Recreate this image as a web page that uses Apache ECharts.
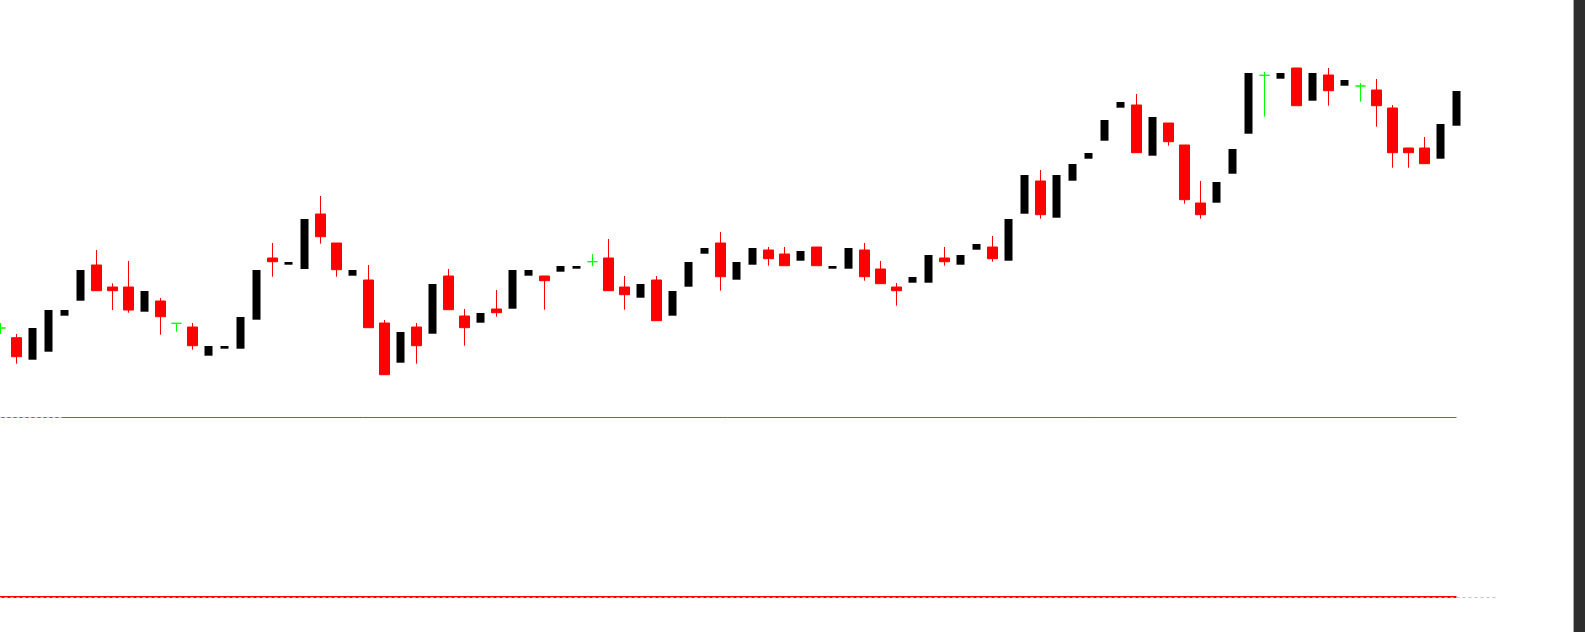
<!DOCTYPE html>
<html>
<head>
<meta charset="utf-8">
<script src="https://cdn.jsdelivr.net/npm/echarts@6/dist/echarts.min.js"></script>
<style>
  html, body { margin: 0; padding: 0; background: #ffffff; }
  #chart { width: 1585px; height: 632px; }
</style>
</head>
<body>
<div id="chart"></div>
<script>
// ---- data (price units; no axis labels are shown in the reference) ----
const openPrices = [
  672, 662.3, 640.3, 648.3, 684.3, 699.3, 735, 713, 713, 688.3,
  699, 676.7, 673, 644.3, 651.3, 651.3, 680.3, 742, 735.3, 731,
  786, 757, 724.3, 720, 677, 637.3, 673, 666.3, 724, 684,
  677.3, 691, 691.3, 724.3, 724, 728.3, 731.3, 738.3, 742, 713,
  702.3, 720, 684.3, 713.3, 746.3, 757, 720.3, 735.3, 750, 746,
  739.3, 753, 731.3, 731.3, 750, 731, 713, 717.3, 717.3, 742,
  735.3, 750.3, 753, 739.3, 786.3, 819, 782.3, 819.3, 841.3, 859.3,
  892.3, 895, 844.3, 877, 855, 797, 797.3, 826.3, 866.3, 924.7,
  921.3, 932, 899.3, 925, 914.3, 914, 910, 892, 852, 852,
  841.3, 874.3
];
const closePrices = [
  672, 643.3, 672, 690, 690, 730, 709.3, 709.3, 690, 709,
  683.3, 676.7, 654.3, 654, 654, 683, 730, 738.3, 738, 781,
  763.3, 730.3, 730, 672.3, 625.3, 668, 654.3, 716, 690.3, 672.3,
  687, 687.3, 730, 730, 719.3, 734, 734, 738.3, 709.3, 705.3,
  716, 679.3, 709, 738, 752, 723.3, 738, 752, 741.3, 734.3,
  749, 734.3, 734, 752, 723.3, 716.3, 709.3, 723, 745, 738.3,
  745, 756, 741.3, 781, 825, 785.3, 825, 836, 847, 880,
  898, 847.3, 883, 858.3, 800.3, 785.3, 818, 851, 927, 924.7,
  927, 894.3, 927, 909.3, 920, 914, 894.3, 847.3, 847.3, 836.3,
  876, 909
];
const lowPrices = [
  666, 636.3, 640.3, 648.3, 684.3, 699.3, 709.3, 690, 687.3, 688.3,
  665.3, 668.3, 650.3, 644.3, 651.3, 651.3, 680.3, 723.3, 735.3, 731,
  756.3, 723.3, 724.3, 672.3, 625.3, 637.3, 636.3, 666.3, 690.3, 654.3,
  677.3, 683.3, 691.3, 724.3, 690.3, 728.3, 731.3, 734, 709.3, 690.3,
  702.3, 679.3, 684.3, 713.3, 746.3, 709.3, 720.3, 735.3, 734.3, 734.3,
  739.3, 734.3, 731.3, 731.3, 719.3, 716.3, 694.3, 717.3, 717.3, 734.3,
  735.3, 750.3, 738.3, 739.3, 786.3, 781.3, 782.3, 819.3, 841.3, 859.3,
  892.3, 847.3, 844.3, 854.3, 796.3, 781.3, 797.3, 826.3, 866.3, 883.3,
  921.3, 894.3, 899.3, 894.3, 914.3, 898.3, 873.3, 832.3, 832.3, 836.3,
  841.3, 874.3
];
const highPrices = [
  677, 666, 672, 690, 690, 730, 750, 716.7, 739, 709,
  702, 676.7, 677, 654, 654, 683, 730, 757, 738, 781,
  804, 757, 730, 735, 680, 668, 677, 716, 731, 691,
  687, 710, 730, 730, 724, 734, 734, 746, 761, 724,
  716, 724, 709, 738, 752, 768, 738, 752, 753, 753,
  749, 753, 734, 752, 757, 739, 717, 723, 745, 753,
  745, 756, 764, 781, 825, 830, 825, 836, 847, 880,
  898, 906, 883, 877, 855, 819, 818, 851, 927, 928,
  927, 932, 927, 932, 920, 917, 921, 895, 852, 863,
  876, 909
];
const upperLevel = 582.5;   // magenta horizontal level
const lowerLevel = 403;     // red horizontal level
const gridLevel = 402.5;    // grey dotted level line
const extraSlots = 3;       // empty bars to the right of the last candle

// ---- build ----
const N = openPrices.length;
const total = N + extraSlots;
const categories = [];
for (let i = 0; i < total; i++) categories.push(String(i + 1));
const upData = [], downData = [], dojiData = [];
for (let i = 0; i < N; i++) {
  const o = openPrices[i], c = closePrices[i];
  const item = [i, o, c, lowPrices[i], highPrices[i]];
  if (c > o) upData.push(item);
  else if (c < o) downData.push(item);
  else dojiData.push(item);
}
const enc = { x: 0, y: [1, 2, 3, 4] };

const chart = echarts.init(document.getElementById('chart'), null, { renderer: 'canvas' });
chart.setOption({
  animation: false,
  backgroundColor: '#ffffff',
  grid: { left: -7.5, top: 0, width: 16 * total, height: 632, containLabel: false, outerBoundsMode: 'none' },
  xAxis: [
    { type: 'category', data: categories, boundaryGap: true, show: false },
    { type: 'value', min: -0.5, max: total - 0.5, show: false }
  ],
  yAxis: { type: 'value', min: 368, max: 1000, show: false, splitLine: { show: false } },
  series: [
    {
      type: 'line', xAxisIndex: 1, silent: true, symbol: 'none',
      data: [[-0.5, upperLevel], [N - 1, upperLevel]],
      lineStyle: { color: '#ff00ff', width: 1 }, z: 1
    },
    {
      type: 'line', xAxisIndex: 1, silent: true, symbol: 'none',
      data: [[-0.5, upperLevel], [4, upperLevel]],
      lineStyle: { color: '#f7c8f7', width: 1, type: [3, 3] }, z: 2
    },
    {
      type: 'line', xAxisIndex: 1, silent: true, symbol: 'none',
      data: [[-0.5, lowerLevel], [N - 1, lowerLevel]],
      lineStyle: { color: '#ff0000', width: 2 }, z: 1
    },
    {
      type: 'line', xAxisIndex: 1, silent: true, symbol: 'none',
      data: [[-0.5, gridLevel], [N + 1.6, gridLevel]],
      lineStyle: { color: '#c0c0c0', width: 1, type: [3, 3] }, z: 2
    },
    {
      type: 'candlestick', name: 'up', data: upData, encode: enc, barWidth: 9,
      itemStyle: { color: '#000000', color0: '#000000', borderColor: '#000000', borderColor0: '#000000', borderWidth: 0 },
      z: 3
    },
    {
      type: 'candlestick', name: 'down', data: downData, encode: enc, barWidth: 10,
      itemStyle: { color: '#ff0000', color0: '#ff0000', borderColor: '#ff0000', borderColor0: '#ff0000', borderWidth: 1 },
      z: 3
    },
    {
      type: 'candlestick', name: 'doji', data: dojiData, encode: enc, barWidth: 10,
      itemStyle: { color: '#00ff00', color0: '#00ff00', borderColor: '#00ff00', borderColor0: '#00ff00', borderColorDoji: '#00ff00', borderWidth: 1 },
      z: 3
    }
  ],
  graphic: [
    { type: 'rect', right: 0, top: 0, shape: { width: 11, height: 632 }, style: { fill: '#2e2e2e' }, silent: true, z: 10 },
    { type: 'rect', right: 11, top: 0, shape: { width: 1, height: 632 }, style: { fill: '#a8a8a8' }, silent: true, z: 10 }
  ]
});
</script>
</body>
</html>
